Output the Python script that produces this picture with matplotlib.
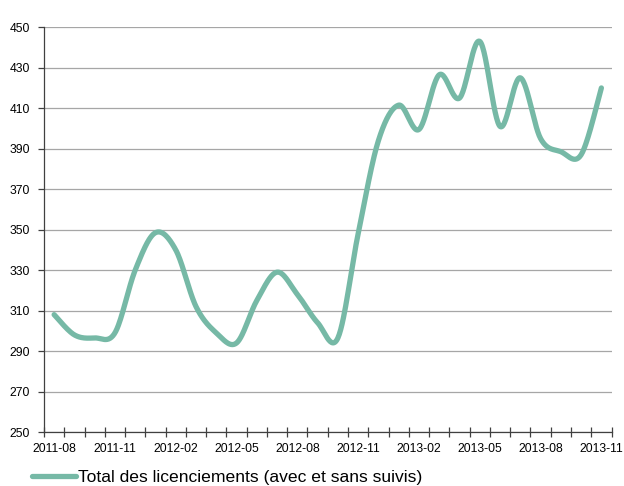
import matplotlib
matplotlib.use("Agg")
import matplotlib.pyplot as plt
import numpy as np

plt.rcParams['font.family'] = ['Liberation Sans', 'DejaVu Sans']

months = ['2011-08', '2011-09', '2011-10', '2011-11', '2011-12', '2012-01', '2012-02',
          '2012-03', '2012-04', '2012-05', '2012-06', '2012-07', '2012-08', '2012-09',
          '2012-10', '2012-11', '2012-12', '2013-01', '2013-02', '2013-03', '2013-04',
          '2013-05', '2013-06', '2013-07', '2013-08', '2013-09', '2013-10', '2013-11']
total = [308, 298, 296.5, 299, 330, 348.5, 340, 312, 299, 294, 315, 329, 318, 304,
         296.5, 348, 394, 411.5, 399.5, 426.5, 415, 443, 401, 425, 395, 388.5, 387, 420]
label = 'Total des licenciements (avec et sans suivis)'
color = '#76b9a6'

# smooth curve like excel (catmull-rom / bezier)
def smooth(y, n=30):
    y = np.asarray(y, float)
    x = np.arange(len(y), dtype=float)
    xs, ys = [], []
    for i in range(len(y) - 1):
        p0 = (x[max(i - 1, 0)], y[max(i - 1, 0)])
        p1 = (x[i], y[i])
        p2 = (x[i + 1], y[i + 1])
        p3 = (x[min(i + 2, len(y) - 1)], y[min(i + 2, len(y) - 1)])
        c1 = (p1[0] + (p2[0] - p0[0]) / 6, p1[1] + (p2[1] - p0[1]) / 6)
        c2 = (p2[0] - (p3[0] - p1[0]) / 6, p2[1] - (p3[1] - p1[1]) / 6)
        t = np.linspace(0, 1, n)
        for k in range(2):
            pts = [p1[k], c1[k], c2[k], p2[k]]
            v = ((1 - t) ** 3 * pts[0] + 3 * (1 - t) ** 2 * t * pts[1]
                 + 3 * (1 - t) * t ** 2 * pts[2] + t ** 3 * pts[3])
            (xs if k == 0 else ys).append(v)
    return np.concatenate(xs), np.concatenate(ys)

fig = plt.figure(figsize=(6.24, 4.86), dpi=100)
ax = fig.add_axes([0.0705, 0.111, 0.9095, 0.833])

sx, sy = smooth(total)
ax.plot(sx, sy, color=color, lw=3.8, solid_capstyle='round', label=label)

ax.set_xlim(-0.5, len(months) - 0.5)
ax.set_ylim(250, 450)
ax.set_yticks(np.arange(250, 451, 20))
ax.yaxis.grid(True, color='#a6a6a6', lw=0.9)
ax.set_axisbelow(True)

ax.set_xticks(np.arange(0, len(months), 3))
ax.set_xticklabels(months[::3])
ax.set_xticks(np.arange(-0.5, len(months), 1), minor=True)
ax.tick_params(axis='x', which='major', length=0, pad=8, labelsize=8.7)
ax.tick_params(axis='x', which='minor', direction='inout', length=7, width=0.9, color='#404040')
ax.tick_params(axis='y', direction='out', length=4, width=0.9, color='#404040', pad=6, labelsize=8.7)

for s in ['top', 'right']:
    ax.spines[s].set_visible(False)
for s in ['left', 'bottom']:
    ax.spines[s].set_color('#404040')
    ax.spines[s].set_linewidth(0.9)

ax.legend(loc='upper left', bbox_to_anchor=(-0.033, -0.077), frameon=False,
          fontsize=12.6, handlelength=2.5, handletextpad=0.1, borderaxespad=0)

fig.savefig('out.png', dpi=100)
